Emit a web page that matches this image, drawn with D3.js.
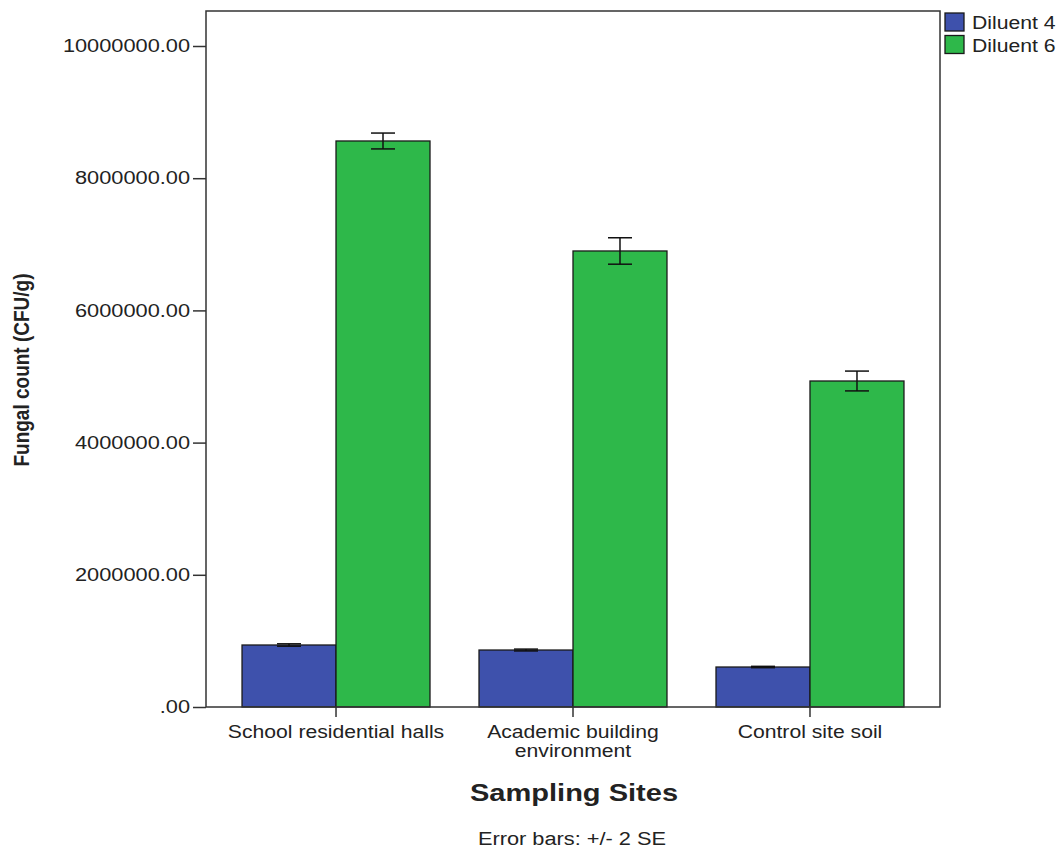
<!DOCTYPE html>
<html>
<head>
<meta charset="utf-8">
<script src="https://cdn.jsdelivr.net/npm/d3@7"></script>
<style>
  body { margin: 0; background: #fff; }
  text { font-family: "Liberation Sans", Arial, sans-serif; fill: #222; }
</style>
</head>
<body>
<svg id="chart" width="1060" height="855"></svg>
<script>
// Sampling sites (x categories); "\n" splits a label over two lines
const sites = ["School residential halls", "Academic building\nenvironment", "Control site soil"];
const seriesNames = ["Diluent 4", "Diluent 6"];
// Mean fungal counts (CFU/g) per site
const diluent4 = [938000, 862000, 605000];
const diluent6 = [8563000, 6899000, 4932000];
// Half-width of error bars (2 SE)
const diluent4Err = [18000, 14000, 10000];
const diluent6Err = [120000, 200000, 150000];
const yTicks = [0, 2000000, 4000000, 6000000, 8000000, 10000000];
const colors = ["#3e51ac", "#2eb84a"];

const svg = d3.select("#chart");
const plotL = 206, plotR = 940, plotT = 11, plotB = 707;
const WIDE = 1.21; // horizontal widening applied to all horizontal text

// Place a text at its x/y and widen it horizontally
function widen(sel, k = WIDE) {
  sel.each(function() {
    const t = d3.select(this);
    const x = +t.attr("x") || 0, y = +t.attr("y") || 0;
    t.attr("x", 0).attr("y", 0).attr("transform", `translate(${x},${y}) scale(${k},1)`);
  });
  return sel;
}

const x = d3.scaleBand().domain(sites).range([plotL, plotR])
  .paddingInner(0.2068).paddingOuter(0.152);
const xs = d3.scaleBand().domain(seriesNames).range([0, x.bandwidth()]);
const y = d3.scaleLinear().domain([0, 10000000]).range([plotB, 46]);

const fmt = v => v === 0 ? ".00" : d3.format(".2f")(v);

const rows = sites.map((s, i) => ({
  site: s,
  vals: [
    { key: seriesNames[0], v: diluent4[i], e: diluent4Err[i], c: colors[0] },
    { key: seriesNames[1], v: diluent6[i], e: diluent6Err[i], c: colors[1] }
  ]
}));

// Bars
const grp = svg.append("g").selectAll("g.site").data(rows).join("g")
  .attr("class", "site")
  .attr("transform", d => `translate(${x(d.site)},0)`);

grp.selectAll("rect").data(d => d.vals).join("rect")
  .attr("x", d => xs(d.key))
  .attr("y", d => y(d.v))
  .attr("width", xs.bandwidth())
  .attr("height", d => y(0) - y(d.v))
  .attr("fill", d => d.c)
  .attr("stroke", "#1a1a1a")
  .attr("stroke-width", 1.3);

// Error bars
const cap = 12;
grp.selectAll("g.err").data(d => d.vals).join("g").attr("class", "err")
  .each(function(d) {
    const cx = xs(d.key) + xs.bandwidth() / 2;
    const e = d3.select(this);
    e.append("line").attr("x1", cx).attr("x2", cx)
      .attr("y1", y(d.v + d.e)).attr("y2", y(d.v - d.e));
    e.append("line").attr("x1", cx - cap).attr("x2", cx + cap)
      .attr("y1", y(d.v + d.e)).attr("y2", y(d.v + d.e));
    e.append("line").attr("x1", cx - cap).attr("x2", cx + cap)
      .attr("y1", y(d.v - d.e)).attr("y2", y(d.v - d.e));
    e.selectAll("line").attr("stroke", "#111").attr("stroke-width", 1.5);
  });

// Frame
svg.append("rect").attr("x", plotL).attr("y", plotT)
  .attr("width", plotR - plotL).attr("height", plotB - plotT)
  .attr("fill", "none").attr("stroke", "#333").attr("stroke-width", 1.5);

// Y axis
const yAxis = svg.append("g").attr("transform", `translate(${plotL},0)`)
  .call(d3.axisLeft(y).tickValues(yTicks).tickFormat(fmt).tickSize(13).tickPadding(3));
yAxis.select(".domain").remove();
yAxis.selectAll("line").attr("stroke", "#333").attr("stroke-width", 1.5);
yAxis.selectAll("text").style("font-size", "18px").attr("fill", "#222")
  .style("font-family", "'Liberation Sans', Arial, sans-serif");
widen(yAxis.selectAll(".tick text"));

// X axis ticks at group centres
const xAxis = svg.append("g").attr("transform", `translate(0,${plotB})`)
  .call(d3.axisBottom(x).tickSize(10).tickFormat(""));
xAxis.select(".domain").remove();
xAxis.selectAll("line").attr("stroke", "#333").attr("stroke-width", 1.5);
xAxis.selectAll(".tick text").remove();

// Category labels (multi-line)
sites.forEach(s => {
  const cx = x(s) + x.bandwidth() / 2;
  s.split("\n").forEach((ln, k) => {
    widen(svg.append("text").attr("x", cx).attr("y", 738 + k * 19)
      .attr("text-anchor", "middle").style("font-size", "17.5px").text(ln));
  });
});

// Axis titles
svg.append("text").attr("transform", "translate(29,370) rotate(-90) scale(1,1.15)")
  .attr("text-anchor", "middle").style("font-size", "19px").style("font-weight", "bold")
  .text("Fungal count (CFU/g)");
widen(svg.append("text").attr("x", 574).attr("y", 801).attr("text-anchor", "middle")
  .style("font-size", "24px").style("font-weight", "bold").text("Sampling Sites"));
widen(svg.append("text").attr("x", 572).attr("y", 845).attr("text-anchor", "middle")
  .style("font-size", "18px").text("Error bars: +/- 2 SE"));

// Legend
const leg = svg.append("g").attr("transform", "translate(945,13)");
seriesNames.forEach((n, i) => {
  leg.append("rect").attr("x", 0).attr("y", i * 22.5).attr("width", 19).attr("height", 18)
    .attr("fill", colors[i]).attr("stroke", "#1a1a1a").attr("stroke-width", 1.3);
  widen(leg.append("text").attr("x", 27).attr("y", i * 22.5 + 16)
    .style("font-size", "17.5px").text(n));
});
</script>
</body>
</html>
